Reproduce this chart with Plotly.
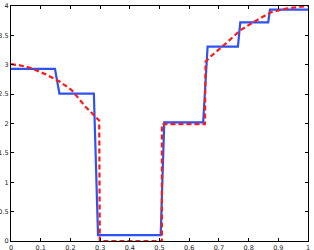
import plotly.graph_objects as go

# Blue piecewise-constant series
blue_x = [0, 0.148, 0.163, 0.279, 0.293, 0.504, 0.516, 0.647, 0.662, 0.764, 0.772, 0.866, 0.872, 1.0]
blue_y = [2.93, 2.93, 2.51, 2.51, 0.1, 0.1, 2.02, 2.02, 3.31, 3.31, 3.72, 3.72, 3.94, 3.94]

# Red dashed reference curve
red_x = [0, 0.03, 0.064, 0.1, 0.12, 0.165, 0.204, 0.25, 0.275, 0.297, 0.299, 0.508, 0.508,
         0.653, 0.655, 0.672, 0.723, 0.773, 0.818, 0.874, 0.93, 1.0]
red_y = [3.01, 2.99, 2.95, 2.87, 2.83, 2.71, 2.57, 2.29, 2.16, 2.05, 0, 0, 1.99,
         1.99, 3.05, 3.14, 3.36, 3.59, 3.73, 3.89, 3.96, 4.0]

x_ticks = [0, 0.1, 0.2, 0.3, 0.4, 0.5, 0.6, 0.7, 0.8, 0.9, 1]
x_labels = ["0", "0.1", "0.2", "0.3", "0.4", "0.5", "0.6", "0.7", "0.8", "0.9", "1"]
y_ticks = [0, 0.5, 1, 1.5, 2, 2.5, 3, 3.5, 4]
y_labels = ["0", "0.5", "1", "1.5", "2", "2.5", "3", "3.5", "4"]

fig = go.Figure()
fig.add_trace(go.Scatter(x=blue_x, y=blue_y, mode="lines",
                         line=dict(color="#2f52f5", width=2.2), showlegend=False))
fig.add_trace(go.Scatter(x=red_x, y=red_y, mode="lines",
                         line=dict(color="#ff1a1a", width=2.2, dash="5px,3px"), showlegend=False))

axis_common = dict(showgrid=False, zeroline=False, showline=True, linecolor="black", linewidth=1,
                   mirror="ticks", ticks="inside", ticklen=3, tickcolor="black", tickwidth=1,
                   tickfont=dict(family="DejaVu Sans", size=6.5, color="#222222"), automargin=False)

fig.update_xaxes(range=[0, 1], tickvals=x_ticks, ticktext=x_labels, **axis_common)
fig.update_yaxes(range=[0, 4], tickvals=y_ticks, ticktext=y_labels, **axis_common)

fig.update_layout(width=314, height=250, template="none",
                  margin=dict(l=11, r=6, t=6, b=9, pad=0),
                  paper_bgcolor="white", plot_bgcolor="white")

fig.write_html("out.html", config={"displayModeBar": False},
               post_script="document.body.style.margin='0';document.body.style.overflow='hidden';")
